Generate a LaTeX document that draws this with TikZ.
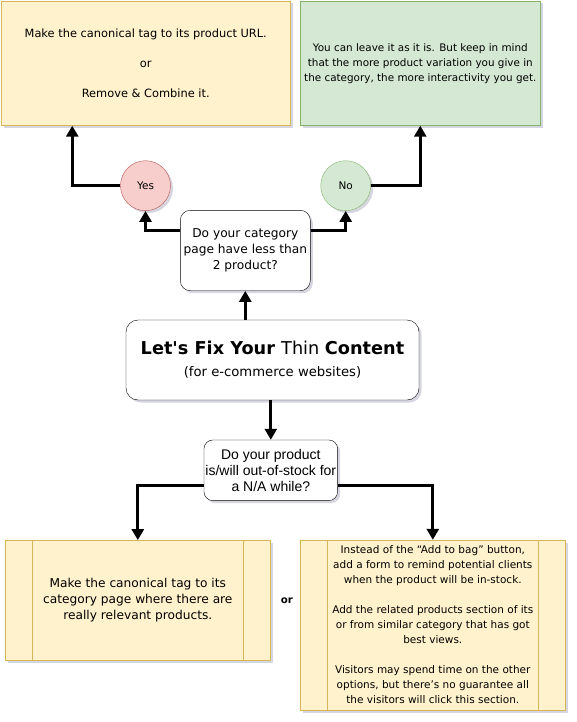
\documentclass[tikz,border=0pt]{standalone}
\usepackage{fontspec}
\setmainfont{DejaVu Sans}
\newfontfamily\arialfont{Liberation Sans}
\usepackage{tikz}
\usetikzlibrary{positioning,calc,arrows.meta,shadows}

\definecolor{notefill}{HTML}{FFF2CC}
\definecolor{noteline}{HTML}{D6B656}
\definecolor{okfill}{HTML}{D5E8D4}
\definecolor{okline}{HTML}{82B366}
\definecolor{badfill}{HTML}{F8CECC}
\definecolor{badline}{HTML}{B85450}
\definecolor{shadowgray}{HTML}{8A8AA8}

\begin{document}
\begin{tikzpicture}[
    x=1pt, y=-1pt,
    shade/.style={drop shadow={shadow xshift=2.5pt, shadow yshift=-2.5pt, opacity=0.35, fill=shadowgray}},
    notebox/.style={draw=noteline, fill=notefill, inner sep=0pt, align=center, shade},
    okbox/.style={draw=okline, fill=okfill, inner sep=0pt, align=center, shade},
    answer/.style={circle, minimum size=50pt, inner sep=0pt, font=\fontsize{10.5}{12}\selectfont, shade},
    question/.style={draw, fill=white, inner sep=0pt, align=center, shade},
    procbox/.style={notebox, path picture={
        \draw[noteline] ([xshift=27pt]path picture bounding box.north west) -- ([xshift=27pt]path picture bounding box.south west)
            ([xshift=-27pt]path picture bounding box.north east) -- ([xshift=-27pt]path picture bounding box.south east);}},
    flow/.style={draw, line width=3pt, -{Triangle[width=12pt,length=11pt]}}
]
\useasboundingbox (0,0) rectangle (577,722);

% Top outcome boxes
\node[notebox, minimum width=289.5pt, minimum height=124.5pt, font=\fontsize{11.4}{15}\selectfont] (fixurl) at (145.75, 63.25)
    {Make the canonical tag to its product URL.\\[15pt] or\\[15pt] Remove \& Combine it.};
\node[okbox, minimum width=240pt, minimum height=124.5pt, font=\fontsize{10.4}{15}\selectfont] (leave) at (420.3, 63.25)
    {You can leave it as it is. But keep in mind\\ that the more product variation you give in\\ the category, the more interactivity you get.};

% Answers
\node[answer, draw=badline, fill=badfill] (yes) at (145.5, 185.7) {Yes};
\node[answer, draw=okline, fill=okfill] (no) at (345.7, 185.7) {No};

% Questions and title
\node[question, minimum width=130pt, minimum height=80.4pt, rounded corners=10pt, font=\fontsize{12.2}{16}\selectfont] (catq) at (245.3, 250.5)
    {Do your category\\ page have less than\\ 2 product?};
\node[question, minimum width=293pt, minimum height=80pt, rounded corners=12pt, font=\fontsize{13.2}{22}\selectfont] (title) at (272.5, 360)
    {{\fontsize{17.7}{22}\selectfont\bfseries Let\textquotesingle s Fix Your \mdseries Thin \bfseries Content}\\ (for e-commerce websites)};
\node[question, minimum width=133.7pt, minimum height=60.7pt, rounded corners=9pt, font=\arialfont\fontsize{14}{16}\selectfont] (stockq) at (270.8, 470.3)
    {Do your product\\ is/will out-of-stock for\\ a N/A while?};

% Bottom outcome boxes
\node[procbox, minimum width=265pt, minimum height=120pt, font=\fontsize{12.2}{16}\selectfont] (tocat) at (137.8, 600.3)
    {Make the canonical tag to its\\ category page where there are\\ really relevant products.};
\node[procbox, minimum width=265pt, minimum height=170pt, font=\fontsize{10.5}{15}\selectfont] (remind) at (432.8, 625)
    {Instead of the “Add to bag” button,\\ add a form to remind potential clients\\ when the product will be in-stock.\\[15pt]
     Add the related products section of its\\ or from similar category that has got\\ best views.\\[15pt]
     Visitors may spend time on the other\\ options, but there’s no guarantee all\\ the visitors will click this section.};
\node[font=\bfseries\fontsize{10.2}{12}\selectfont] (orlabel) at (287, 601) {or};

% Connectors
\draw[flow] (title.north -| catq.south) -- (catq.south);
\draw[flow] ([yshift=20.5pt]catq.west) -| (yes.south);
\draw[flow] ([yshift=20.5pt]catq.east) -| (no.south);
\draw[flow] (yes.west) -| ([xshift=-73.5pt]fixurl.south);
\draw[flow] (no.east) -| (leave.south);
\draw[flow] (title.south -| stockq.north) -- (stockq.north);
\draw[flow] ([yshift=-14.7pt]stockq.west) -| (tocat.north);
\draw[flow] ([yshift=-14.7pt]stockq.east) -| (remind.north);

\end{tikzpicture}
\end{document}
